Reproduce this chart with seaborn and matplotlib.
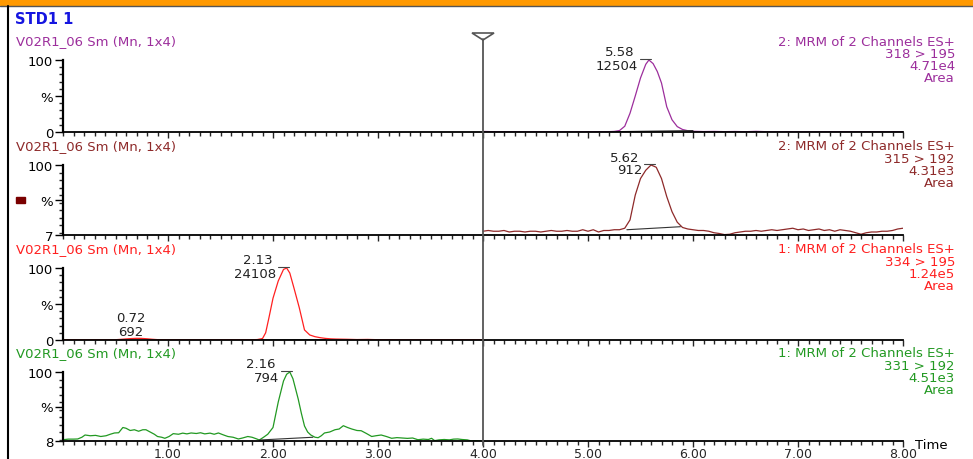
import matplotlib
matplotlib.use('Agg')
import matplotlib.pyplot as plt
import seaborn as sns
from matplotlib.lines import Line2D
from matplotlib.patches import Polygon, Rectangle
from matplotlib.ticker import FixedLocator, MultipleLocator

# trace 1: 2: MRM 318 > 195 (only 4-8 min segment)
t1 = [4.00, 4.10, 4.20, 4.30, 4.40, 4.50, 4.60, 4.70, 4.80, 4.90, 5.00, 5.10, 5.20, 5.25, 5.30,
      5.35, 5.40, 5.45, 5.50, 5.55, 5.58, 5.62, 5.66, 5.70, 5.75, 5.80, 5.85, 5.90, 5.95, 6.00,
      6.10, 6.20, 6.30, 6.40, 6.50, 6.60, 6.70, 6.80, 6.90, 7.00, 7.20, 7.40, 7.60, 7.80, 8.00]
i1 = [0.8, 0.4, 0.3, 0.3, 0.2, 0.3, 0.3, 0.2, 0.3, 0.3, 0.3, 0.4, 0.5, 0.8, 2.0,
      8.0, 26.0, 50.0, 75.0, 94.0, 100.0, 95.0, 84.0, 68.0, 35.0, 17.0, 7.5, 3.5, 1.8, 1.0,
      0.6, 0.8, 0.5, 0.7, 0.4, 0.9, 0.4, 0.3, 0.5, 0.3, 0.3, 0.4, 0.3, 0.3, 0.4]

# trace 2: 2: MRM 315 > 192
t2 = [4.00, 4.05, 4.10, 4.15, 4.20, 4.25, 4.30, 4.35, 4.40, 4.45,
      4.50, 4.55, 4.60, 4.65, 4.70, 4.75, 4.80, 4.85, 4.90, 4.95,
      5.00, 5.05, 5.10, 5.15, 5.20, 5.25, 5.30, 5.35, 5.40, 5.45,
      5.50, 5.55, 5.60, 5.65, 5.70, 5.75, 5.80, 5.85, 5.90, 5.95,
      6.00, 6.05, 6.10, 6.15, 6.20, 6.25, 6.30, 6.35, 6.40, 6.45,
      6.50, 6.55, 6.60, 6.65, 6.70, 6.75, 6.80, 6.85, 6.90, 6.95,
      7.00, 7.05, 7.10, 7.15, 7.20, 7.25, 7.30, 7.35, 7.40, 7.45,
      7.50, 7.55, 7.60, 7.65, 7.70, 7.75, 7.80, 7.85, 7.90, 7.95,
      8.00]
i2 = [12, 13, 12, 12, 13, 11, 12, 12, 11, 12,
      12, 11, 12, 13, 12, 12, 13, 12, 12, 14,
      12, 14, 11, 13, 13, 14, 14, 16, 27, 60,
      82, 93, 100, 97, 82, 58, 38, 24, 17, 15,
      14, 13, 13, 12, 10, 9, 7.5, 8, 10, 11,
      12, 12, 13, 12, 13, 14, 13, 14, 15, 16,
      14, 15, 13, 14, 15, 13, 14, 12, 14, 13,
      12, 10, 8, 10, 11, 11, 12, 12, 13, 15,
      16]

# trace 3: 1: MRM 334 > 195 (0-4 min segment)
t3 = [0.00, 0.10, 0.20, 0.30, 0.40, 0.50, 0.55, 0.60, 0.65, 0.70, 0.75, 0.80, 0.85, 0.90, 1.00,
      1.20, 1.40, 1.60, 1.70, 1.80, 1.85, 1.90, 1.93, 1.96, 2.00, 2.05, 2.10, 2.13, 2.16, 2.20,
      2.25, 2.30, 2.35, 2.40, 2.45, 2.50, 2.55, 2.60, 2.70, 2.80, 2.90, 3.00, 3.20, 3.40, 3.60,
      3.80, 4.00]
i3 = [0.3, 0.3, 0.2, 0.3, 0.3, 0.4, 0.9, 1.5, 2.0, 2.3, 2.2, 1.7, 1.0, 0.5, 0.3,
      0.3, 0.2, 0.3, 0.3, 0.4, 0.6, 2.0, 10.0, 30.0, 58.0, 82.0, 98.0, 100.0, 93.0, 72.0,
      45.0, 14.0, 7.0, 4.6, 3.2, 2.2, 1.6, 1.3, 1.0, 0.6, 0.8, 0.4, 0.3, 0.3, 0.2,
      0.3, 0.3]

# trace 4: 1: MRM 331 > 192
t4 = [0.00, 0.05, 0.10, 0.14, 0.18, 0.21, 0.26, 0.31, 0.36, 0.41,
      0.45, 0.49, 0.53, 0.57, 0.60, 0.64, 0.68, 0.72, 0.76, 0.79,
      0.83, 0.87, 0.90, 0.94, 0.97, 1.01, 1.05, 1.10, 1.14, 1.18,
      1.22, 1.27, 1.31, 1.35, 1.40, 1.44, 1.48, 1.53, 1.57, 1.62,
      1.67, 1.71, 1.76, 1.80, 1.84, 1.87, 1.91, 1.95, 2.00, 2.05,
      2.10, 2.13, 2.16, 2.19, 2.24, 2.27, 2.30, 2.33, 2.36, 2.40,
      2.43, 2.46, 2.49, 2.54, 2.59, 2.63, 2.67, 2.71, 2.75, 2.80,
      2.84, 2.89, 2.94, 2.98, 3.03, 3.08, 3.13, 3.18, 3.23, 3.28,
      3.33, 3.38, 3.43, 3.48, 3.51, 3.54, 3.58, 3.63, 3.68, 3.72,
      3.76, 3.80, 3.85, 3.89, 3.93, 3.98]
i4 = [9.7, 10.5, 10.5, 10.7, 13.0, 16.0, 15.0, 15.5, 14.0, 15.0,
      17.0, 18.7, 19.0, 26.0, 25.0, 22.0, 23.0, 21.0, 23.0, 23.0,
      20.0, 17.0, 14.0, 13.0, 11.6, 14.0, 17.8, 17.0, 18.5, 17.5,
      18.7, 18.0, 19.0, 17.5, 18.5, 17.0, 18.7, 16.0, 14.0, 13.0,
      10.7, 12.0, 14.0, 13.0, 11.0, 9.3, 13.0, 17.0, 26.0, 60.0,
      88.0, 97.0, 100.0, 91.0, 64.0, 45.0, 28.0, 20.0, 16.0, 13.0,
      12.4, 15.0, 18.7, 20.0, 23.0, 24.0, 28.4, 26.0, 24.0, 22.0,
      21.7, 18.0, 14.0, 15.0, 16.0, 14.0, 11.6, 12.5, 12.0, 11.5,
      12.0, 9.7, 10.5, 10.0, 11.6, 8.5, 9.5, 10.0, 9.5, 10.5,
      10.7, 10.0, 9.5, 8.0, 8.5, 8.0]

# integration baselines (start, end)
base_t = [[5.27, 6.00], [5.37, 5.88], [1.89, 2.50], [1.87, 2.38]]
base_i = [[0.5, 2.0], [14.0, 18.0], [0.2, 0.6], [9.3, 13.0]]

panel_title = 'V02R1_06 Sm (Mn, 1x4)'
channel_info = [
    ['2: MRM of 2 Channels ES+', '318 > 195', '4.71e4', 'Area'],
    ['2: MRM of 2 Channels ES+', '315 > 192', '4.31e3', 'Area'],
    ['1: MRM of 2 Channels ES+', '334 > 195', '1.24e5', 'Area'],
    ['1: MRM of 2 Channels ES+', '331 > 192', '4.51e3', 'Area'],
]
y_min = [0, 7, 0, 8]
peaks = [[(5.58, '5.58', '12504')], [(5.62, '5.62', '912')],
         [(2.13, '2.13', '24108'), (0.72, '0.72', '692')], [(2.16, '2.16', '794')]]
colors = ['#9C2E9C', '#8E2A2A', '#FF2020', '#229922']
x_ticks = [1.00, 2.00, 3.00, 4.00, 5.00, 6.00, 7.00, 8.00]
segment_split = 4.00

sns.set_style('white')
plt.rcParams['font.family'] = ['DejaVu Sans']
plt.rcParams['font.size'] = 9.5

W, H = 973, 460
fig = plt.figure(figsize=(W / 100, H / 100), dpi=100)

ax_left, ax_right = 63 / W, 903 / W
tops = [61, 166, 269, 373]
bottoms = [133, 236, 341, 442]
traces = [(t1, i1), (t2, i2), (t3, i3), (t4, i4)]
txt_size = 9.5

axes = []
for k in range(4):
    ax = fig.add_axes([ax_left, 1 - bottoms[k] / H, ax_right - ax_left, (bottoms[k] - tops[k]) / H])
    axes.append(ax)
    c = colors[k]
    sns.lineplot(x=traces[k][0], y=traces[k][1], ax=ax, color=c, lw=0.9, sort=False)
    ax.plot(base_t[k], base_i[k], color='#333333', lw=0.8)
    ax.set_xlim(0, 8.0)
    ax.set_ylim(y_min[k], 100)
    for s in ['top', 'right']:
        ax.spines[s].set_visible(False)
    ax.spines['left'].set_linewidth(1.6)
    ax.spines['bottom'].set_linewidth(1.3)
    ax.spines['left'].set_color('black')
    ax.spines['bottom'].set_color('black')
    ax.set_facecolor('none')

    mid = (y_min[k] + 100) / 2
    ax.yaxis.set_major_locator(FixedLocator([y_min[k], mid, 100]))
    ax.set_yticklabels([str(y_min[k]), '%', '100'])
    ax.yaxis.set_minor_locator(MultipleLocator(10))
    ax.tick_params(axis='y', which='major', direction='out', length=6, width=1, left=True,
                   labelsize=9.5, pad=1, colors='black')
    ax.tick_params(axis='y', which='minor', direction='out', length=3, width=1, left=True)
    ax.xaxis.set_major_locator(FixedLocator(x_ticks))
    ax.xaxis.set_minor_locator(MultipleLocator(0.1))
    ax.tick_params(axis='x', which='major', direction='out', length=4, width=1, bottom=True,
                   labelsize=9, pad=0.5)
    ax.tick_params(axis='x', which='minor', direction='out', length=3, width=1, bottom=True)
    if k < 3:
        ax.set_xticklabels([])
    else:
        ax.set_xticklabels([f'{v:.2f}' for v in x_ticks])
    ax.set_xlabel('')
    ax.set_ylabel('')

    # panel texts
    fig.text(16 / W, 1 - (tops[k] - 19) / H, panel_title, color=c, fontsize=txt_size,
             ha='left', va='center')
    for j, line in enumerate(channel_info[k]):
        fig.text(955 / W, 1 - (tops[k] - 19 + 12.3 * j) / H, line, color=c, fontsize=txt_size,
                 ha='right', va='center')

    # peak labels
    for (pt, rt, area) in peaks[k]:
        if pt < 1.0:
            ax.annotate(rt, xy=(pt, 100), xytext=(-8, -50), textcoords='offset pixels',
                        xycoords='data', ha='center', va='center', fontsize=txt_size,
                        color='#222222')
            ax.annotate(area, xy=(pt, 100), xytext=(-8, -64), textcoords='offset pixels',
                        ha='center', va='center', fontsize=txt_size, color='#222222')
        else:
            ax.annotate(rt, xy=(pt, 100), xytext=(-14, 8), textcoords='offset pixels',
                        ha='right', va='center', fontsize=txt_size, color='#222222')
            ax.annotate(area, xy=(pt, 100), xytext=(-11, -5), textcoords='offset pixels',
                        ha='right', va='center', fontsize=txt_size, color='#222222')
            ax.plot([pt - 0.085, pt + 0.02], [101.5, 101.5], color='#444444', lw=0.8,
                    clip_on=False)

# marker box in panel 2
fig.patches.append(Rectangle((16 / W, 1 - 204 / H), 9 / W, 6 / H, transform=fig.transFigure,
                             color='#7A0000'))

# function split line with triangle marker
fx = ax_left + (segment_split / 8.0) * (ax_right - ax_left)
fig.add_artist(Line2D([fx, fx], [1 - 446 / H, 1 - 40 / H], color='#555555', lw=1.3))
fig.patches.append(Polygon([(fx - 11 / W, 1 - 34 / H), (fx + 11 / W, 1 - 34 / H), (fx, 1 - 41 / H)],
                           closed=True, fill=False, edgecolor='#555555', lw=1.2,
                           transform=fig.transFigure))

# frame details
fig.patches.append(Rectangle((0, 1 - 6 / H), 1, 6 / H, transform=fig.transFigure,
                             color='#FF9900'))
fig.add_artist(Line2D([0, 1], [1 - 6.5 / H, 1 - 6.5 / H], color='#555555', lw=1))
fig.add_artist(Line2D([8 / W, 8 / W], [0, 1 - 6.5 / H], color='black', lw=1.5))

fig.text(15 / W, 1 - 20 / H, 'STD1 1', color='#1515E0', fontsize=10.5, fontweight='bold',
         ha='left', va='center')
fig.text(915 / W, 1 - 446 / H, 'Time', color='black', fontsize=txt_size, ha='left', va='center')

fig.savefig('out.png', dpi=100)
